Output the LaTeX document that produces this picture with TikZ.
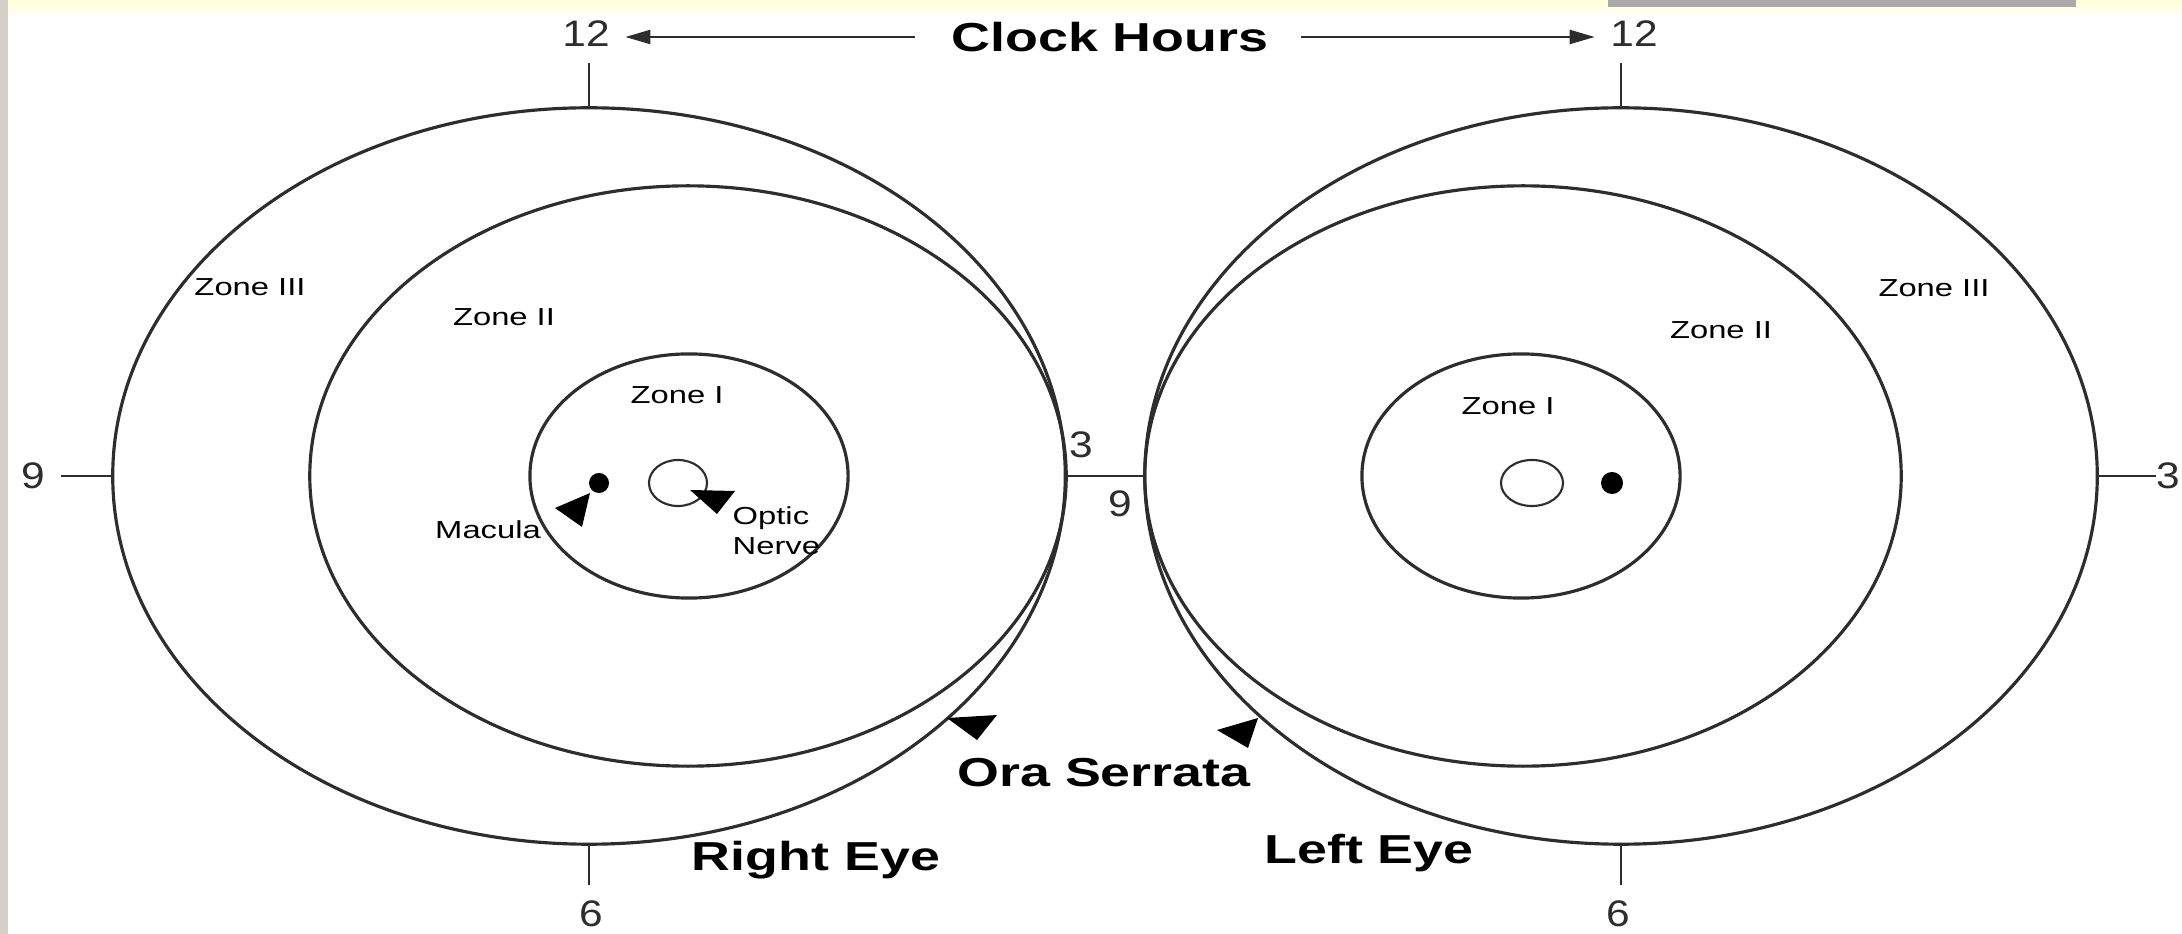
\documentclass[tikz,border=0pt]{standalone}
\usepackage{fontspec}
\setmainfont{Liberation Sans}
\usepackage{graphicx}
\usetikzlibrary{shapes.geometric,arrows.meta,calc}

\definecolor{sidegray}{RGB}{212,208,200}
\definecolor{bargray}{RGB}{170,170,170}
\definecolor{paleyellow}{RGB}{255,255,215}
\definecolor{inkgray}{RGB}{45,45,45}

\newcommand{\wid}[1]{\scalebox{1.33}[1]{#1}}
\newcommand{\digs}[1]{\scalebox{1.15}[1]{#1}}

\tikzset{
  ring/.style={ellipse, draw=inkgray, line width=0.9pt, inner sep=0pt, outer sep=0pt},
  hour/.style={font=\fontsize{10.5}{12}\selectfont, inner sep=0.15cm, text=inkgray},
  zonelbl/.style={font=\fontsize{7}{8.5}\selectfont, inner sep=0pt},
  biglbl/.style={font=\bfseries\fontsize{11.5}{13}\selectfont, inner sep=0pt},
  tick/.style={draw=inkgray, line width=0.6pt},
  pointer/.style={fill=black}
}

\begin{document}
\begin{tikzpicture}[x=0.01cm, y=-0.01cm]
\useasboundingbox (0,0) rectangle (2182,934);
% screen edges
\fill[white] (0,0) rectangle (2182,934);
\shade[top color=paleyellow, bottom color=white] (0,0) rectangle (2182,18);
\fill[sidegray] (0,0) rectangle (8,934);
\fill[bargray] (1608,0) rectangle (2076,7);

% right eye
\node[ring, minimum width=9.52cm, minimum height=7.36cm] (oR) at (589,476) {};
\node[ring, minimum width=7.56cm, minimum height=5.80cm] (zIIR) at (688,476) {};
\node[ring, minimum width=3.18cm, minimum height=2.44cm] (zIR) at (689,476) {};
\node[ring, line width=0.6pt, minimum width=0.58cm, minimum height=0.46cm] (onR) at (678,483) {};
\node[circle, fill=black, inner sep=0pt, minimum size=0.2cm] (maR) at (599,483) {};

% left eye
\node[ring, minimum width=9.52cm, minimum height=7.36cm] (oL) at (1621,476) {};
\node[ring, minimum width=7.56cm, minimum height=5.80cm] (zIIL) at (1523,476) {};
\node[ring, minimum width=3.18cm, minimum height=2.44cm] (zIL) at (1521,476) {};
\node[ring, line width=0.6pt, minimum width=0.62cm, minimum height=0.46cm] (onL) at (1532,483) {};
\node[circle, fill=black, inner sep=0pt, minimum size=0.22cm] (maL) at (1612,483) {};

% clock hours
\node[hour] (l12) at (586,34) {\digs{12}};
\node[hour] (r12) at (1634,34) {\digs{12}};
\node[hour] (l9) at (33,476) {\digs{9}};
\node[hour, inner sep=0pt] (r3) at (2168,476) {\digs{3}};
\node[hour, inner sep=0pt] (m3) at (1081,445) {\digs{3}};
\node[hour, inner sep=0pt] (m9) at (1120,504) {\digs{9}};
\node[hour] (l6) at (591,914) {\digs{6}};
\node[hour] (r6) at (1618,914) {\digs{6}};
\node[biglbl] (clock) at (1110,37) {\wid{Clock Hours}};

\path[tick]
  (oR.north) edge (oR.north |- l12.south)
  (oR.south) edge (oR.south |- l6.north)
  (l9.east) edge (oR.west)
  (oR.east) edge (oL.west)
  (oL.north) edge (oL.north |- r12.south)
  (oL.south) edge (oL.south |- r6.north)
  (oL.east) edge (r3.west);
\draw[tick, -{Triangle[length=0.25cm, width=0.14cm]}, shorten <=0.36cm]
  (clock.west) -- (clock.west -| l12.east);
\draw[tick, -{Triangle[length=0.25cm, width=0.14cm]}, shorten <=0.32cm]
  (clock.east) -- (clock.east -| r12.west);

% zone labels
\node[zonelbl] (rIII) at (250,287) {\wid{Zone III}};
\node[zonelbl] (rII) at (504,317) {\wid{Zone II}};
\node[zonelbl] (rI) at (677,395) {\wid{Zone I}};
\node[zonelbl] (lIII) at (1934,288) {\wid{Zone III}};
\node[zonelbl] (lII) at (1721,330) {\wid{Zone II}};
\node[zonelbl] (lI) at (1508,406) {\wid{Zone I}};
\node[zonelbl] (macula) at (488,530) {\wid{Macula}};
\node[zonelbl, anchor=west, align=left] (optic) at (732,531) {\wid{Optic}\\\wid{Nerve}};

% pointers
\fill[pointer] (555,508) -- (590,493) -- (582,527) -- cycle;
\fill[pointer] (690,490) -- (735,491) -- (717,514) -- cycle;
\fill[pointer] (947,718) -- (997,715) -- (977,740) -- cycle;
\fill[pointer] (1217,730) -- (1258,718) -- (1248,748) -- cycle;

\node[biglbl] (ora) at (1104,773) {\wid{Ora Serrata}};
\node[biglbl] (righteye) at (816,860) {\wid{Right Eye}};
\node[biglbl] (lefteye) at (1369,853) {\wid{Left Eye}};
\end{tikzpicture}
\end{document}
